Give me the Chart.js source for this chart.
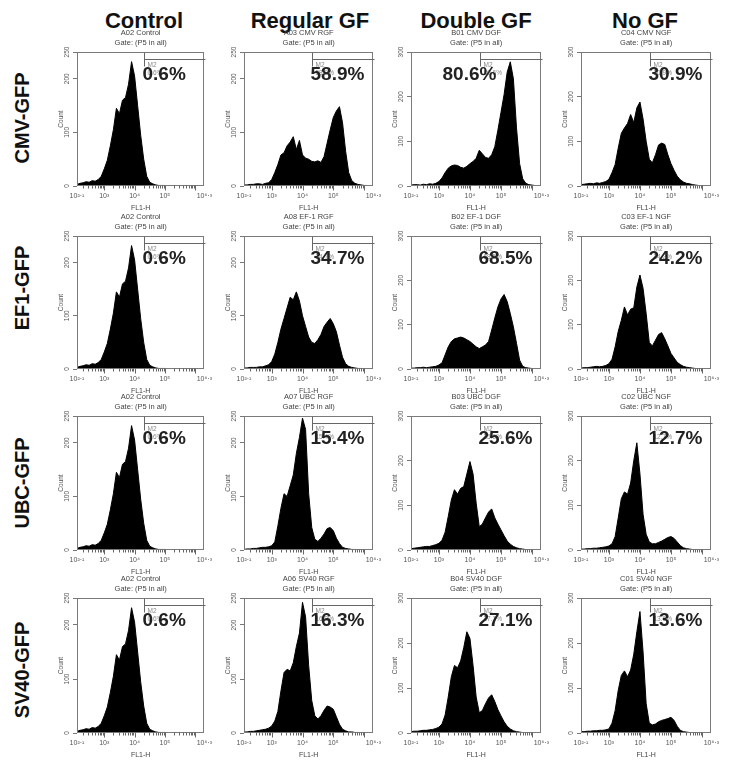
<!DOCTYPE html>
<html><head><meta charset="utf-8">
<script src="https://cdn.jsdelivr.net/npm/chart.js@4/dist/chart.umd.min.js"></script>
<style>
body{margin:0;background:#fff;width:740px;height:774px;overflow:hidden;position:relative;font-family:"Liberation Sans",Arial,sans-serif}
.col{position:absolute;font-weight:bold;font-size:22px;line-height:22px;transform:translate(-50%,-50%);white-space:nowrap;color:#111}
.row{position:absolute;left:22px;font-weight:bold;font-size:20px;line-height:20px;transform:translate(-50%,-50%) rotate(-90deg);white-space:nowrap;color:#111}
canvas{position:absolute}
</style></head><body>
<script>
// ---------------- DATA ----------------
const columns = ['Control','Regular GF','Double GF','No GF'];
const rows = ['CMV-GFP','EF1-GFP','UBC-GFP','SV40-GFP'];
const sampleNames = [
  ['A02 Control','A03 CMV RGF','B01 CMV DGF','C04 CMV NGF'],
  ['A02 Control','A08 EF-1 RGF','B02 EF-1 DGF','C03 EF-1 NGF'],
  ['A02 Control','A07 UBC RGF','B03 UBC DGF','C02 UBC NGF'],
  ['A02 Control','A06 SV40 RGF','B04 SV40 DGF','C01 SV40 NGF']
];
const percentM2 = [
  [0.6,58.9,80.6,30.9],
  [0.6,34.7,68.5,24.2],
  [0.6,15.4,25.6,12.7],
  [0.6,16.3,27.1,13.6]
];
const gateStart = 4.32;               // log10 FL1-H where M2 begins
const yMaxByColumn = [250,250,300,300];
const xTickValues = [2.1,3,4,5,6.3];
const xTickLabels = ['10²·¹','10³','10⁴','10⁵','10⁶·³'];
// bin centres (log10 FL1-H)
const bins = [2.1,2.2,2.3,2.4,2.5,2.6,2.7,2.8,2.9,3.0,3.1,3.2,3.3,3.4,3.5,3.6,3.7,3.8,3.9,4.0,4.1,4.2,4.3,4.4,4.5,4.6,4.7,4.8,4.9,5.0,5.1,5.2,5.3,5.4,5.5,5.6,5.7,5.8,5.9,6.0,6.1,6.2];

const controlCounts = [3,5,6,8,7,10,9,12,18,32, 48,75,105,145,135,160,165,190,232,205, 150,95,50,18,7,4,2,1,1,1, 0,0,0,0,0,0,0,0,0,0, 0,0];
const cmvRGF = [2,2,3,3,4,4,3,5,6,12, 25,40,58,62,75,82,92,68,85,58, 52,50,46,45,47,44,55,80,105,128, 140,148,118,65,25,10,5,3,2,1, 1,0];
const cmvDGF = [2,3,3,2,4,3,5,4,6,10, 18,30,40,45,47,46,42,40,44,50, 55,62,80,72,64,62,70,88,125,165, 205,255,278,240,130,50,16,6,3,2, 1,0];
const cmvNGF = [3,4,5,6,5,7,6,8,10,15, 30,48,85,118,130,140,160,142,175,188, 150,100,60,52,70,92,96,93,70,50, 35,22,14,9,6,5,3,2,1,1, 0,0];
const ef1RGF = [2,2,3,3,3,4,4,6,8,14, 28,50,75,95,115,135,130,145,128,100, 80,60,50,48,55,65,80,88,95,85, 70,45,22,10,5,3,2,1,1,0, 0,0];
const ef1DGF = [2,2,3,3,4,3,4,5,6,9, 14,32,50,62,68,70,72,70,66,62, 56,50,46,50,54,62,88,115,140,158, 168,152,125,95,58,20,6,3,2,1, 0,0];
const ef1NGF = [2,3,3,4,5,6,5,6,8,12, 22,50,85,110,140,122,135,138,185,212, 182,125,60,52,65,78,82,68,52,35, 25,15,10,6,4,3,2,1,1,0, 0,0];
const ubcRGF = [1,2,2,3,3,4,5,5,6,8, 15,45,78,105,100,120,140,180,210,246, 225,105,42,20,16,22,30,40,42,36, 22,12,5,3,2,1,1,0,0,0, 0,0];
const ubcDGF = [3,4,5,6,7,8,8,10,12,15, 22,40,75,112,135,125,138,142,170,198, 170,105,52,58,72,85,92,72,58,45, 32,20,13,8,5,3,2,1,1,0, 0,0];
const ubcNGF = [2,2,3,3,4,4,5,6,7,9, 14,30,72,115,130,125,150,200,240,170, 80,35,18,14,14,17,20,24,28,30, 26,18,10,5,3,2,1,1,0,0, 0,0];
const sv40RGF = [2,2,3,3,4,5,6,7,9,13, 22,40,78,112,118,115,130,160,185,242, 215,125,60,32,26,32,42,50,48,44, 30,16,7,4,2,2,1,1,0,0, 0,0];
const sv40DGF = [3,4,4,5,6,6,7,8,10,13, 20,40,80,125,150,145,160,190,225,210, 150,80,45,50,65,78,85,70,52,38, 25,15,9,5,3,2,1,1,0,0, 0,0];
const sv40NGF = [3,3,4,4,5,5,6,6,7,9, 22,50,95,128,138,125,140,175,225,270, 180,65,22,18,20,25,28,30,32,35, 28,15,6,3,2,1,1,0,0,0, 0,0];

const countsGrid = [
  [controlCounts, cmvRGF, cmvDGF, cmvNGF],
  [controlCounts, ef1RGF, ef1DGF, ef1NGF],
  [controlCounts, ubcRGF, ubcDGF, ubcNGF],
  [controlCounts, sv40RGF, sv40DGF, sv40NGF]
];

// ---------------- LAYOUT ----------------
const plotLeft = [77,244,411,581], plotRight = [208,377,545,715];
const plotTop = [52,236,416,598], plotBottom = [186,369,550,733];
const colCenter = [144,310,476,645];
const rowCenter = [118,288,483,670];
const labelShift = [[0,0,-36,0],[0,0,0,0],[0,0,0,0],[0,0,0,0]];
const AXW = 20, PADT = 26, PADR = 10, AXH = 28;
const FONT = '"Liberation Sans", Arial, sans-serif';
Chart.defaults.font.family = FONT;

columns.forEach((c,i)=>{const d=document.createElement('div');d.className='col';d.textContent=c;d.style.left=colCenter[i]+'px';d.style.top='21px';document.body.appendChild(d);});
rows.forEach((r,i)=>{const d=document.createElement('div');d.className='row';d.textContent=r;d.style.top=rowCenter[i]+'px';document.body.appendChild(d);});

const panelPlugin = {
  id:'panel',
  afterDraw(chart, args, o){
    const {ctx, chartArea:a, scales:{x}} = chart;
    ctx.save();
    ctx.strokeStyle='#7a7a7a'; ctx.lineWidth=1;
    const L=Math.round(a.left)+0.5, T=Math.round(a.top)+0.5, R=Math.round(a.right)-0.5, B=Math.round(a.bottom)-0.5;
    ctx.strokeRect(L,T,R-L,B-T);
    // log minor ticks
    ctx.strokeStyle='#666';
    for(let d=2; d<=6; d++) for(let k=1;k<=9;k++){
      const v=d+Math.log10(k); if(v<x.min||v>x.max) continue;
      const px=Math.round(x.getPixelForValue(v))+0.5;
      ctx.beginPath(); ctx.moveTo(px,B); ctx.lineTo(px,B+(k===1?5:3)); ctx.stroke();
    }
    // panel title
    ctx.fillStyle='#444'; ctx.font='7.5px '+FONT; ctx.textAlign='center'; ctx.textBaseline='middle';
    const cx=(a.left+a.right)/2;
    ctx.fillText(o.sample, cx, a.top-19);
    ctx.fillText('Gate: (P5 in all)', cx, a.top-9);
    // M2 gate marker
    const gx=Math.round(x.getPixelForValue(o.gate))+0.5;
    ctx.strokeStyle='#666';
    ctx.beginPath(); ctx.moveTo(gx,T); ctx.lineTo(gx,T+14); ctx.moveTo(gx,T+7); ctx.lineTo(R+2,T+7); ctx.stroke();
    ctx.textAlign='left'; ctx.font='6.5px '+FONT; ctx.fillStyle='#888';
    ctx.fillText('M2', gx+3, a.top+13);
    ctx.fillText(o.pct.toFixed(1)+'%', gx+3, a.top+21);
    ctx.font='bold 19px '+FONT; ctx.fillStyle='#222';
    ctx.fillText(o.pct.toFixed(1)+'%', gx-2+o.shift, a.top+23);
    ctx.restore();
  }
};

for(let r=0;r<4;r++) for(let c=0;c<4;c++){
  const L=plotLeft[c], R=plotRight[c], T=plotTop[r], B=plotBottom[r];
  const W=(R-L)+AXW+PADR, H=(B-T)+PADT+AXH;
  const cv=document.createElement('canvas');
  cv.width=W; cv.height=H; cv.style.width=W+'px'; cv.style.height=H+'px';
  cv.style.left=(L-AXW)+'px'; cv.style.top=(T-PADT)+'px';
  document.body.appendChild(cv);
  new Chart(cv,{
    type:'line',
    data:{labels:bins, datasets:[{data:countsGrid[r][c], stepped:false, tension:0, fill:'origin',
      backgroundColor:'#000', borderColor:'#000', borderWidth:1, pointRadius:0}]},
    options:{
      responsive:false, animation:false, events:[],
      layout:{padding:{left:0,top:PADT,right:PADR,bottom:0}},
      plugins:{legend:{display:false}, tooltip:{enabled:false},
        panel:{sample:sampleNames[r][c], pct:percentM2[r][c], gate:gateStart, shift:labelShift[r][c]}},
      scales:{
        x:{type:'linear', min:2.1, max:6.3,
          afterBuildTicks:s=>{s.ticks=xTickValues.map(v=>({value:v}));},
          afterFit:s=>{s.height=AXH;},
          grid:{display:false, drawTicks:false}, border:{display:false},
          ticks:{padding:6, maxRotation:0, autoSkip:false, font:{size:7}, color:'#555',
            callback:(v)=>{const i=xTickValues.indexOf(v); return i>=0?xTickLabels[i]:'';}},
          title:{display:true, text:'FL1-H', font:{size:7}, color:'#444', padding:{top:0,bottom:2}}},
        y:{min:0, max:yMaxByColumn[c],
          afterFit:s=>{s.width=AXW;},
          grid:{display:true, drawOnChartArea:false, tickLength:4, color:'#777'}, border:{display:false},
          ticks:{stepSize:100, minRotation:90, maxRotation:90, crossAlign:'center', padding:0, font:{size:6.5}, color:'#555'},
          title:{display:true, text:'Count', font:{size:6.5}, color:'#555', padding:0}}
      }
    },
    plugins:[panelPlugin]
  });
}
</script>
</body></html>
